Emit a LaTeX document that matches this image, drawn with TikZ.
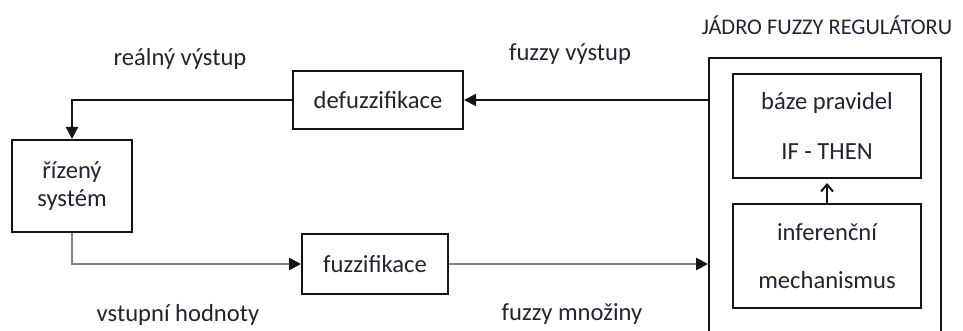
\documentclass[tikz,border=0pt]{standalone}
\usepackage{fontspec}
\setmainfont{Carlito}
\usetikzlibrary{arrows.meta}
\definecolor{lineBlack}{RGB}{20,20,20}
\definecolor{lineGray}{RGB}{130,130,130}
\definecolor{textDark}{RGB}{35,35,50}

\begin{document}
\begin{tikzpicture}[
    x=0.5pt,
    y=-0.5pt,
    font=\fontsize{12.3}{14}\selectfont,
    block/.style={
        draw=lineBlack,
        line width=1pt,
        text=textDark,
        align=center,
        inner sep=0pt
    },
    label text/.style={
        text=textDark,
        inner sep=0pt
    },
    flow/.style={
        lineBlack,
        line width=1pt,
        -{Triangle[length=6pt,width=6pt]}
    },
    input flow/.style={
        lineGray,
        line width=1.3pt,
        -{Triangle[length=6pt,width=6pt,color=lineBlack]}
    },
    rule flow/.style={
        lineBlack,
        line width=1pt,
        -{Straight Barb[length=3.5pt,width=6pt]},
        shorten >=2pt
    }
]

\clip (0,0) rectangle (963,331);

%------------------------------------------------
% Core of the controller
%------------------------------------------------
\node[block,minimum width=116pt,minimum height=150pt,anchor=north]
    (jadro) at (825,57) {};

\node[label text,font=\fontsize{11.2}{13}\selectfont] (jadrotext) at (827,25)
    {JÁDRO FUZZY REGULÁTORU};

\node[block,minimum width=94pt,minimum height=52pt,
    font=\fontsize{12.3}{25}\selectfont]
    (baze) at (827,126) {báze pravidel\\IF - THEN};

\node[block,minimum width=94pt,minimum height=52pt,
    font=\fontsize{12.3}{24}\selectfont]
    (infer) at (827,256) {inferenční\\mechanismus};

%------------------------------------------------
% Outer blocks
%------------------------------------------------
\node[block,minimum width=85pt,minimum height=29pt]
    (defuzz) at (378,100) {defuzzifikace};

\node[block,minimum width=60pt,minimum height=46pt]
    (rizeny) at (72,186) {řízený\\systém};

\node[block,minimum width=73pt,minimum height=29.5pt]
    (fuzzif) at (375,264) {fuzzifikace};

%------------------------------------------------
% Signal labels
%------------------------------------------------
\node[label text] (realny) at (180,59) {reálný výstup};
\node[label text] (fuzzyvy) at (570,54) {fuzzy výstup};
\node[label text] (vstupni) at (178,315) {vstupní hodnoty};
\node[label text] (mnoziny) at (572,314) {fuzzy množiny};

%------------------------------------------------
% Connections
%------------------------------------------------
\draw[flow] (jadro.west |- defuzz) -- (defuzz);
\draw[flow] (defuzz) -| (rizeny);
\draw[input flow] (rizeny) |- (fuzzif);
\draw[input flow] (fuzzif) -- (jadro.west |- fuzzif);
\draw[rule flow] (infer) -- (baze);

\end{tikzpicture}
\end{document}
